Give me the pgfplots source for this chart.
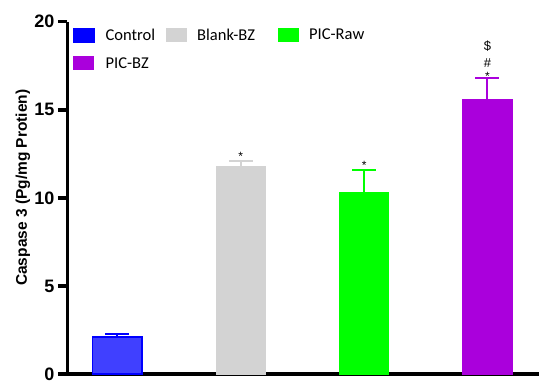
\documentclass[border=0pt]{standalone}
\usepackage{pgfplots}
\pgfplotsset{compat=1.18}
\usepackage{fontspec}
\setmainfont{Carlito}
\newfontfamily\arialbf{Liberation Sans}[BoldFont={Liberation Sans Bold}]
\definecolor{cctrl}{RGB}{64,64,255}
\definecolor{cctrlb}{RGB}{0,0,255}
\definecolor{cblank}{RGB}{211,211,211}
\definecolor{craw}{RGB}{0,255,0}
\definecolor{cbz}{RGB}{170,0,220}
\begin{document}
\begin{tikzpicture}[x=1pt,y=1pt]
\path[use as bounding box] (0,0) rectangle (550,389);
\begin{axis}[
  at={(67.5pt,15pt)}, anchor=south west,
  scale only axis, width=471.5pt, height=352.3pt,
  ymin=0, ymax=20, xmin=-0.405, xmax=3.418,
  axis x line*=bottom, axis y line*=left,
  axis line style={line width=3.8pt, -},
  ytick={0,5,10,15,20}, xtick=\empty,
  tick align=outside,
  tick style={line width=3.5pt, black},
  major tick length=9.5pt,
  y tick label style={font=\fontsize{18}{18}\selectfont\arialbf\bfseries, xshift=0pt},
  /pgf/number format/assume math mode=true,
  ylabel={\arialbf\bfseries Caspase 3 (Pg/mg Protien)},
  ylabel style={font=\fontsize{15.5}{15.5}\selectfont, at={(axis description cs:-0.0859,0.529)}, anchor=base, inner sep=0pt},
  ybar, bar width=49.5pt, bar shift=0pt,
  legend style={at={(axis cs:-0.405,20)}, anchor=north west, xshift=5.5pt, yshift=-5pt, draw=none, fill=none,
    font=\fontsize{16.5}{16.5}\selectfont, column sep=9pt, row sep=11.5pt, inner sep=0pt},
  legend columns=3,
  legend cell align=left,
  legend image code/.code={\fill[#1] (0pt,-6.5pt) rectangle (20pt,6.5pt);},
  error bars/y dir=plus, error bars/y explicit,
]
\addplot[fill=cctrl, draw=cctrlb, line width=1.5pt,
  error bars/error bar style={line width=2pt, cctrlb},
  error bars/error mark options={rotate=90, mark size=12pt, line width=2pt, cctrlb},
  legend image code/.code={\fill[cctrlb] (0pt,-6.5pt) rectangle (20pt,6.5pt);}]
  coordinates {(0,2.10) +- (0,0.16)};
\addlegendentry{Control}
\addplot[fill=cblank, draw=cblank, line width=0pt,
  error bars/error bar style={line width=2pt, cblank},
  error bars/error mark options={rotate=90, mark size=12pt, line width=2pt, cblank}]
  coordinates {(1,11.78) +- (0,0.32)};
\addlegendentry{\makebox[70pt][l]{Blank-BZ}}
\addplot[fill=craw, draw=craw, line width=0pt,
  error bars/error bar style={line width=2pt, craw},
  error bars/error mark options={rotate=90, mark size=12pt, line width=2pt, craw}]
  coordinates {(2,10.28) +- (0,1.32)};
\addlegendentry{PIC-Raw}
\addplot[fill=cbz, draw=cbz, line width=0pt,
  error bars/error bar style={line width=2pt, cbz},
  error bars/error mark options={rotate=90, mark size=12pt, line width=2pt, cbz}]
  coordinates {(3,15.6) +- (0,1.2)};
\addlegendentry{PIC-BZ}
\node[font=\fontsize{12}{12}\selectfont\arialbf, anchor=base, inner sep=0pt] at (axis cs:1,12.1) {*};
\node[font=\fontsize{12}{12}\selectfont\arialbf, anchor=base, inner sep=0pt] at (axis cs:2,11.6) {*};
\node[font=\fontsize{12}{12}\selectfont\arialbf, anchor=base, inner sep=0pt, yshift=-2pt] at (axis cs:3,16.8) {*};
\node[font=\fontsize{13}{13}\selectfont\arialbf, anchor=base, inner sep=0pt, yshift=11pt] at (axis cs:3,16.8) {\#};
\node[font=\fontsize{13}{13}\selectfont\arialbf, anchor=base, inner sep=0pt, yshift=28pt] at (axis cs:3,16.8) {\$};
\end{axis}
\end{tikzpicture}
\end{document}
